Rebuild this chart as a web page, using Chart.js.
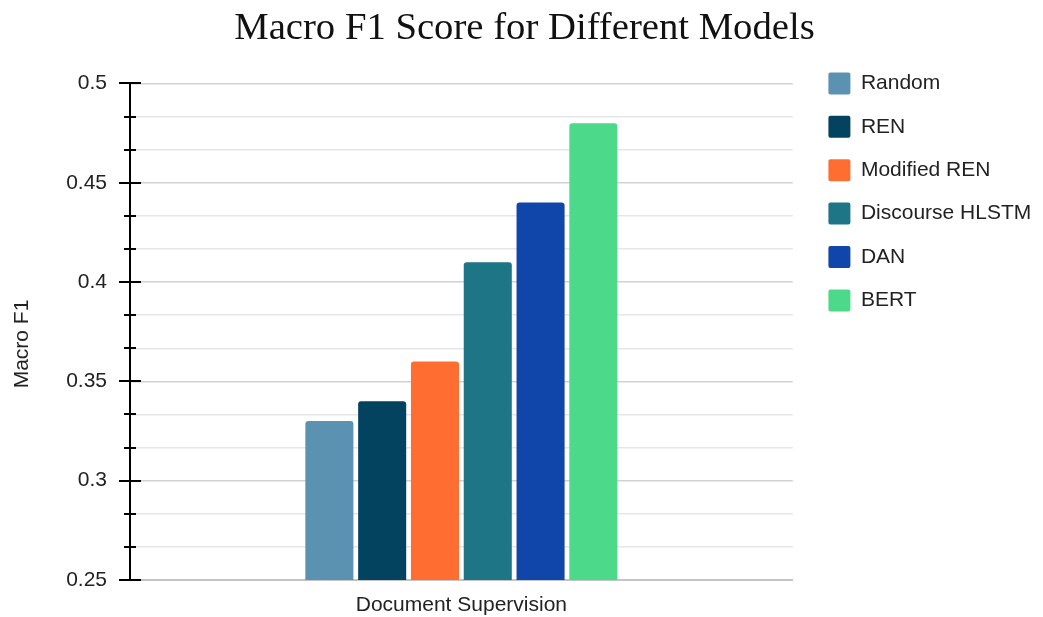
<!DOCTYPE html>
<html>
<head>
<meta charset="utf-8">
<script src="https://cdn.jsdelivr.net/npm/chart.js@4.4.1/dist/chart.umd.min.js"></script>
<style>
  html, body { margin: 0; padding: 0; background: #fff; }
  #wrap { width: 1043px; height: 617px; }
</style>
</head>
<body>
<div id="wrap"><canvas id="c" width="1043" height="617"></canvas></div>
<script>
// ---- data ----
const categories = ['Document Supervision'];
const seriesNames = ['Random', 'REN', 'Modified REN', 'Discourse HLSTM', 'DAN', 'BERT'];
const randomValues = [0.33];
const renValues = [0.34];
const modifiedRenValues = [0.36];
const hlstmValues = [0.41];
const danValues = [0.44];
const bertValues = [0.48];
const seriesValues = [randomValues, renValues, modifiedRenValues, hlstmValues, danValues, bertValues];
const seriesColors = ['#5b92b1', '#03435f', '#ff6d31', '#1e7586', '#1046a9', '#4cda8a'];
const yTickLabels = ['0.25', '0.3', '0.35', '0.4', '0.45', '0.5'];
const yMinorDivisions = 3;
const chartTitle = 'Macro F1 Score for Different Models';
const yAxisTitle = 'Macro F1';

const SANS = '"Liberation Sans", Arial, sans-serif';
const TEXT = '#222';

const axisDecor = {
  id: 'axisDecor',
  afterLayout(chart) {
    // place legend block like the reference
    const lg = chart.legend;
    lg.left = 807;
    lg.right = 1043;
    lg.width = lg.right - lg.left;
    lg.top = 51;
    // shift title centre like the reference
    const tb = chart.titleBlock;
    tb.left = 11;
    tb.right = 1038;
    tb.width = tb.right - tb.left;
  },
  afterDraw(chart) {
    const ctx = chart.ctx;
    const y = chart.scales.y;
    const ax = chart.chartArea.left;
    ctx.save();
    ctx.strokeStyle = '#000';
    ctx.lineWidth = 2;
    y.ticks.forEach(t => {
      const py = Math.round(y.getPixelForValue(t.value));
      const len = t.minor ? 6 : 11;
      ctx.beginPath();
      ctx.moveTo(ax - len, py);
      ctx.lineTo(ax + len, py);
      ctx.stroke();
    });
    // y axis title
    ctx.fillStyle = TEXT;
    ctx.font = '21px ' + SANS;
    ctx.textAlign = 'center';
    ctx.textBaseline = 'middle';
    ctx.translate(22, 344);
    ctx.rotate(-Math.PI / 2);
    ctx.fillText(yAxisTitle, 0, 0);
    ctx.restore();
  }
};

new Chart(document.getElementById('c'), {
  type: 'bar',
  data: {
    labels: categories,
    datasets: seriesNames.map((name, i) => ({
      label: name,
      data: seriesValues[i],
      backgroundColor: seriesColors[i],
      borderRadius: 3,
      borderSkipped: 'start',
      barPercentage: 0.91,
      categoryPercentage: 0.478
    }))
  },
  options: {
    responsive: false,
    animation: false,
    devicePixelRatio: 1,
    layout: { padding: { left: 0, right: 16, top: 0, bottom: 1 } },
    plugins: {
      title: {
        display: true,
        text: chartTitle,
        color: '#111',
        font: { family: '"Liberation Serif", "Times New Roman", serif', size: 38.7, weight: 'normal' },
        padding: { top: 6, bottom: 31 }
      },
      legend: {
        position: 'right',
        align: 'start',
        labels: {
          boxWidth: 22,
          boxHeight: 22,
          padding: 21.4,
          useBorderRadius: true,
          borderRadius: 2,
          color: TEXT,
          font: { family: SANS, size: 21 }
        }
      },
      tooltip: { enabled: false }
    },
    scales: {
      x: {
        afterFit(scale) { scale.height = 36; },
        grid: { display: false, drawTicks: false },
        border: { display: true, color: '#c4c4c4', width: 2 },
        ticks: { color: TEXT, padding: 13, font: { family: SANS, size: 21 } }
      },
      y: {
        min: 0.25,
        max: 0.5,
        afterFit(scale) { scale.width = 130; },
        afterBuildTicks(scale) {
          const majors = yTickLabels.map(Number);
          const ticks = [];
          majors.forEach((v, i) => {
            ticks.push({ value: v, label: yTickLabels[i] });
            if (i < majors.length - 1) {
              const step = (majors[i + 1] - v) / yMinorDivisions;
              for (let k = 1; k < yMinorDivisions; k++) ticks.push({ value: v + step * k, minor: true });
            }
          });
          scale.ticks = ticks;
        },
        grid: {
          drawTicks: false,
          color: ctx => (ctx.tick && ctx.tick.minor) ? '#e6e6e6' : '#d2d2d2',
          lineWidth: 1.5
        },
        border: { display: true, color: '#000', width: 2 },
        ticks: {
          autoSkip: false,
          padding: 23,
          color: TEXT,
          font: { family: SANS, size: 21 },
          callback: function(value, index, ticks) {
            const t = ticks[index];
            if (t.minor) return '';
            const i = yTickLabels.map(Number).findIndex(m => Math.abs(m - value) < 1e-9);
            return i >= 0 ? yTickLabels[i] : '';
          }
        }
      }
    }
  },
  plugins: [axisDecor]
});
</script>
</body>
</html>
